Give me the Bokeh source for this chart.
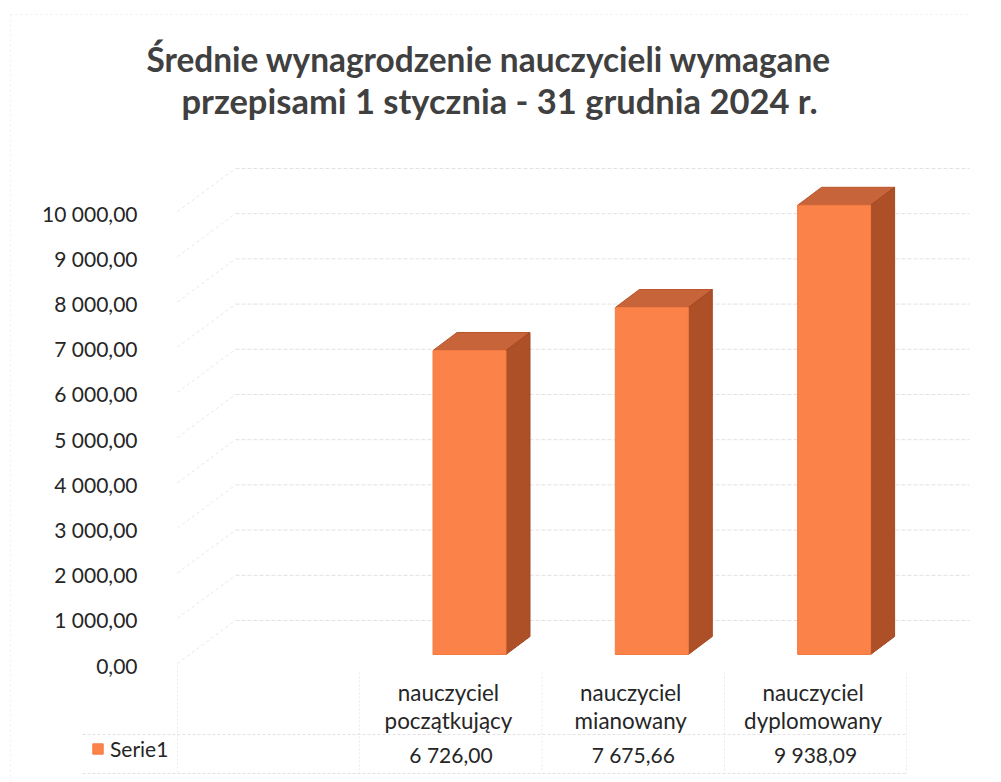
from bokeh.plotting import figure
from bokeh.models import FixedTicker, Legend, LegendItem, Range1d
from bokeh.core.properties import value
from bokeh.embed import file_html
from bokeh.resources import INLINE

title_lines = ["Średnie wynagrodzenie nauczycieli wymagane",
               "przepisami 1 stycznia - 31 grudnia 2024 r."]
categories = ["nauczyciel\npoczątkujący", "nauczyciel\nmianowany", "nauczyciel\ndyplomowany"]
value_labels = ["6 726,00", "7 675,66", "9 938,09"]
series_name = "Serie1"
series_values = [6726.00, 7675.66, 9938.09]
y_ticks = [0, 1000, 2000, 3000, 4000, 5000, 6000, 7000, 8000, 9000, 10000]
y_labels = ["0,00", "1 000,00", "2 000,00", "3 000,00", "4 000,00", "5 000,00",
            "6 000,00", "7 000,00", "8 000,00", "9 000,00", "10 000,00"]

FONT = "Lato"
COL_W = 182.3
X0_PX = 177.0
Y0_PX = 664.5
PX_PER_UNIT = 0.0452

def ux(px):
    return (px - X0_PX) / COL_W

def vy(px):
    return (Y0_PX - px) / PX_PER_UNIT

p = figure(width=1000, height=781, output_backend="svg", toolbar_location=None,
           x_range=Range1d(ux(0), ux(1000)), y_range=Range1d(vy(781), vy(0)),
           min_border=0, min_border_left=0, min_border_right=0,
           min_border_top=0, min_border_bottom=0)
p.outline_line_color = None
p.xaxis.visible = False
p.xgrid.visible = False
p.ygrid.visible = False

ax = p.yaxis[0]
ax.fixed_location = ux(145)
ax.ticker = FixedTicker(ticks=y_ticks)
ax.major_label_overrides = {t: s for t, s in zip(y_ticks, y_labels)}
ax.axis_line_color = None
ax.major_tick_line_color = None
ax.minor_tick_line_color = None
ax.major_tick_in = 0
ax.major_tick_out = 0
ax.major_label_standoff = 8
ax.major_label_text_font = FONT
ax.major_label_text_font_size = "21px"
ax.major_label_text_color = "#262626"

GRID = "#e2e2e2"
FRONT_LIFT = vy(663)
WALL_LIFT = vy(620)
wall_x0, wall_x1 = ux(235), ux(969)
diag_x0 = ux(177)
p.multi_line([[wall_x0, wall_x1] for _ in y_ticks],
             [[t + WALL_LIFT, t + WALL_LIFT] for t in y_ticks],
             line_color=GRID, line_width=1, line_dash="4 2")
p.multi_line([[diag_x0, wall_x0] for _ in y_ticks],
             [[t + FRONT_LIFT, t + WALL_LIFT] for t in y_ticks],
             line_color="#e8e8e8", line_width=1, line_dash="3 3")

# table
tx = [ux(177), ux(359), ux(541.5), ux(724), ux(906)]
p.multi_line([[x, x] for x in tx],
             [[vy(666 if i < 1 else 672), vy(773)] for i in range(len(tx))],
             line_color="#ebebeb", line_width=1, line_dash="2 2")
p.multi_line([[ux(82), ux(906)], [ux(82), ux(906)]],
             [[vy(734), vy(734)], [vy(773), vy(773)]],
             line_color="#e2e2e2", line_width=1, line_dash="3 2")
# chart area border
p.multi_line([[ux(10), ux(10)], [ux(10), ux(968)]],
             [[vy(14), vy(781)], [vy(14), vy(14)]],
             line_color="#eeeeee", line_width=1, line_dash="2 3")

# 3-D bars
BAR_LIFT = vy(654)
BAR_W = 73 / COL_W
DX = 24 / COL_W
DY = 18 / PX_PER_UNIT
idx = [1, 2, 3]
lefts = [i + ux(432.5) - 1 for i in idx]
rights = [l + BAR_W for l in lefts]
tops = [v + BAR_LIFT for v in series_values]
bottoms = [BAR_LIFT] * 3

p.patches([[l, r, r + DX, l + DX] for l, r in zip(lefts, rights)],
          [[t, t, t + DY, t + DY] for t in tops],
          fill_color="#C7643A", line_color="#B9532B", line_width=1)
p.patches([[r, r + DX, r + DX, r] for r in rights],
          [[b, b + DY, t + DY, t] for b, t in zip(bottoms, tops)],
          fill_color="#AD5028", line_color="#A34822", line_width=1)
front = p.quad(left=lefts, right=rights, top=tops, bottom=bottoms,
               fill_color="#FB8349", line_color="#F47C42", line_width=1)

leg = Legend(items=[LegendItem(label=series_name, renderers=[front])],
             location=(91, 20), padding=0, margin=0, glyph_width=13, glyph_height=13,
             label_standoff=6, background_fill_alpha=0, border_line_color=None,
             label_text_font=FONT, label_text_font_size="21px", label_text_color="#262626",
             label_height=13)
p.add_layout(leg, "center")

# table text
centers = [i + 0.5 for i in idx]
label_centers = [c - 2.5 / COL_W for c in centers]
first, second = zip(*(c.split("\n") for c in categories))
for row, xs, px, size in ((first, label_centers, 692, "22.4px"),
                          (second, label_centers, 720, "22.4px"),
                          (value_labels, centers, 754, "21px")):
    p.text(xs, [vy(px)] * 3, text=list(row), text_align="center", text_baseline="middle",
           text_font=value(FONT), text_font_size=size, text_color="#262626")

# title
p.text([ux(488.5)], [vy(58)], text=[title_lines[0]], text_align="center",
       text_baseline="middle", text_font=value(FONT), text_font_style="bold",
       text_font_size="33.4px", text_color="#404040")
p.text([ux(499)], [vy(100)], text=[title_lines[1]], text_align="center",
       text_baseline="middle", text_font=value(FONT), text_font_style="bold",
       text_font_size="34.5px", text_color="#404040")

open("out.html", "w").write(file_html(p, INLINE))
